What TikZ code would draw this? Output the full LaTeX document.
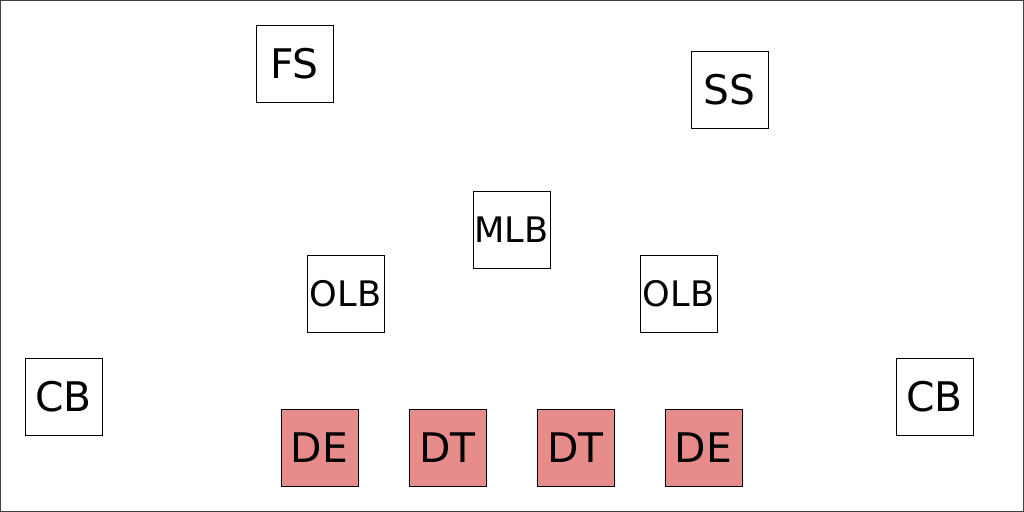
\documentclass[tikz,border=0pt]{standalone}
\usepackage{fontspec}
\setmainfont{DejaVu Sans}
\definecolor{LineRed}{HTML}{E88B8B}
\definecolor{FrameGray}{HTML}{404040}
\usetikzlibrary{positioning}
\tikzset{
  playerbox/.style={rectangle, draw=black, line width=0.6pt, fill=white, minimum width=1.925cm, minimum height=1.925cm, inner sep=0pt, font=\fontsize{29}{30}\selectfont, align=center},
  smallbox/.style={playerbox, font=\fontsize{25}{26}\selectfont},
  linebox/.style={playerbox, fill=LineRed}
}
\begin{document}
\begin{tikzpicture}[x=0.025cm, y=-0.025cm]
  \useasboundingbox (0,0) rectangle (1024,512);
  \draw[FrameGray, line width=0.8pt] (0.5,0.5) rectangle (1023.5,511.5);

  % secondary
  \node[playerbox] (fs) at (294.5,63.5) {FS};
  \node[playerbox] (ss) at (729.5,89.5) {SS};

  % linebackers
  \node[smallbox] (mlb) at (511.5,229.5) {MLB};
  \node[smallbox] (olbl) at (345.5,294) {OLB};
  \node[smallbox] (olbr) at (678.5,294) {OLB};

  % corners
  \node[playerbox] (cbl) at (63.5,396.5) {CB};
  \node[playerbox] (cbr) at (934.5,396.5) {CB};

  % line
  \node[linebox] (del) at (319.5,447.5) {DE};
  \node[linebox] (dtl) at (447.5,447.5) {DT};
  \node[linebox] (dtr) at (575.5,447.5) {DT};
  \node[linebox] (der) at (703.5,447.5) {DE};
\end{tikzpicture}
\end{document}
